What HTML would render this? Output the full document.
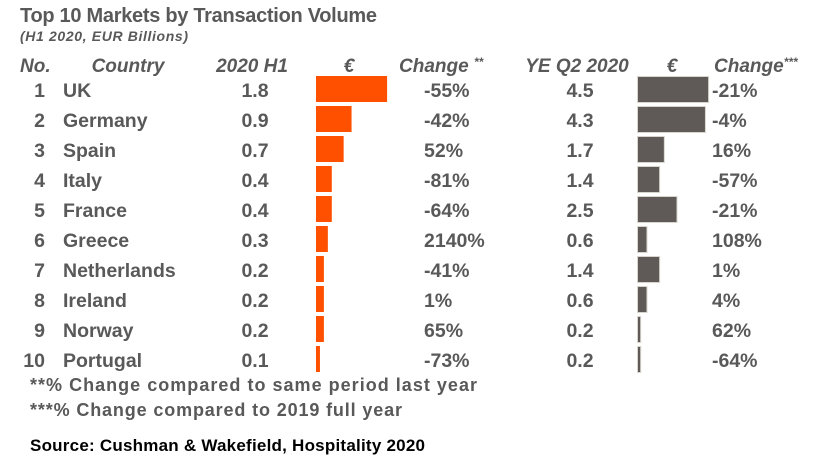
<!DOCTYPE html>
<html><head><meta charset="utf-8"><style>
body{margin:0;background:#fff;}
svg text{font-family:"Liberation Sans",Arial,sans-serif;font-weight:bold;fill:#595959;}
</style></head><body>
<svg width="829" height="456" xmlns="http://www.w3.org/2000/svg">
<text x="20" y="22" font-size="20" textLength="357">Top 10 Markets by Transaction Volume</text>
<text x="20" y="41" font-size="14" font-style="italic" textLength="168">(H1 2020, EUR Billions)</text>
<g font-size="19" font-style="italic">
<text x="20" y="72">No.</text>
<text x="128" y="72" text-anchor="middle">Country</text>
<text x="252" y="72" text-anchor="middle">2020 H1</text>
<text x="349" y="72" text-anchor="middle">€</text>
<text x="399" y="72">Change <tspan font-size="12" dy="-6">**</tspan></text>
<text x="577" y="72" text-anchor="middle">YE Q2 2020</text>
<text x="672" y="72" text-anchor="middle">€</text>
<text x="714" y="72">Change<tspan font-size="12" dy="-6">***</tspan></text>
</g>
<g id="rows"></g>
<text x="30" y="391" font-size="18" textLength="447">**%  Change compared to same period last year</text>
<text x="30" y="416" font-size="18" textLength="372">***% Change compared to 2019 full year</text>
<text x="30" y="451" font-size="17" textLength="395" style="fill:#000">Source: Cushman &amp; Wakefield, Hospitality 2020</text>
</svg>
<script>
const countries=["UK","Germany","Spain","Italy","France","Greece","Netherlands","Ireland","Norway","Portugal"];
const h1Values=[1.8,0.9,0.7,0.4,0.4,0.3,0.2,0.2,0.2,0.1];
const h1Change=["-55%","-42%","52%","-81%","-64%","2140%","-41%","1%","65%","-73%"];
const yeValues=[4.5,4.3,1.7,1.4,2.5,0.6,1.4,0.6,0.2,0.2];
const yeChange=["-21%","-4%","16%","-57%","-21%","108%","1%","4%","62%","-64%"];
const NS="http://www.w3.org/2000/svg";
const g=document.getElementById('rows');
const rowY=i=>76+i*30;
const xH1=v=>v*39.5;
const xYE=v=>v*15.8;
function t(x,y,s,anchor,name){const e=document.createElementNS(NS,'text');e.setAttribute('x',x);e.setAttribute('y',y);e.setAttribute('font-size','19.5');if(anchor)e.setAttribute('text-anchor',anchor);e.textContent=s;


g.appendChild(e);}
function r(x,y,w,fill,stroke,name){const e=document.createElementNS(NS,'rect');e.setAttribute('x',x);e.setAttribute('y',y);e.setAttribute('width',Math.max(w,1.5));e.setAttribute('height',26);e.setAttribute('fill',fill);if(stroke){e.setAttribute('stroke',stroke);e.setAttribute('stroke-width','1');}


g.appendChild(e);}
countries.forEach((c,i)=>{const y=rowY(i),ty=y+21;
t(45,ty,String(i+1),'end','row-number');
t(63,ty,c,null,'country-label');
t(255,ty,h1Values[i].toFixed(1),'middle','h1-value');
r(316,y,xH1(h1Values[i]),'#ff5000',null,'h1-bar');
t(424,ty,h1Change[i],null,'h1-change');
t(580,ty,yeValues[i].toFixed(1),'middle','ye-value');
r(637.5,y+0.5,xYE(yeValues[i]),'#5f5a58','#d8d6cc','ye-bar');
t(712,ty,yeChange[i],null,'ye-change');
});
</script>
</body></html>
